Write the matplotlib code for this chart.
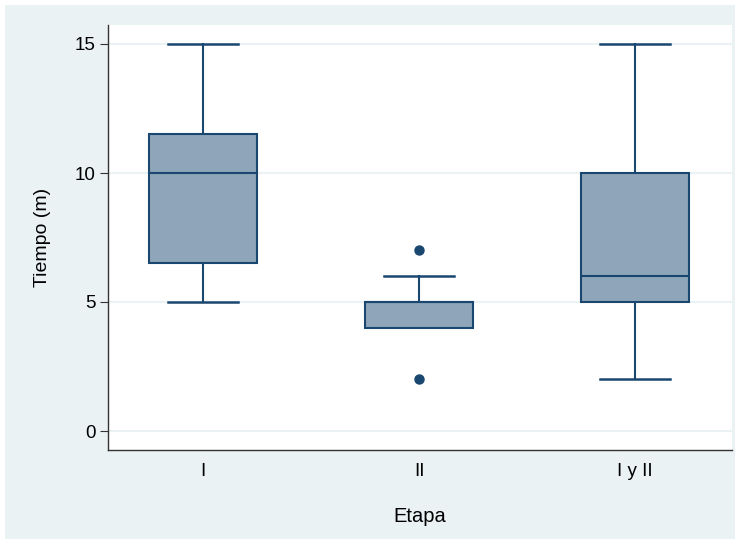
import matplotlib
matplotlib.use("Agg")
import matplotlib.pyplot as plt
from matplotlib.patches import Rectangle

plt.rcParams['font.family'] = ['Liberation Sans', 'DejaVu Sans']

categories = ["I", "II", "I y II"]
whislo = [5, 4, 2]
q1 = [6.5, 4, 5]
med = [10, 5, 6]
q3 = [11.5, 5, 10]
whishi = [15, 6, 15]
fliers = [[], [2, 7], []]
yticks = [0, 5, 10, 15]

navy = "#1A476F"
fill = "#8FA5B9"
bg = "#EAF2F3"

fig = plt.figure(figsize=(7.40, 5.44), dpi=100)
fig.patch.set_facecolor("white")
fig.patches.append(Rectangle((5/740, 5/544), 1 - 10/740, 1 - 10/544,
                             transform=fig.transFigure, facecolor=bg,
                             edgecolor="none", zorder=-10))
ax = fig.add_axes([108/740, 94/544, 624/740, 425/544])
ax.set_facecolor("white")

stats = []
for i, c in enumerate(categories):
    stats.append(dict(label=c, whislo=whislo[i], q1=q1[i], med=med[i],
                      q3=q3[i], whishi=whishi[i], fliers=fliers[i]))

res = ax.bxp(stats, positions=[1, 2, 3], widths=0.5, patch_artist=True,
             boxprops=dict(facecolor=fill, edgecolor=navy, linewidth=1.5),
             medianprops=dict(color=navy, linewidth=1.5),
             whiskerprops=dict(color=navy, linewidth=1.5),
             capprops=dict(color=navy, linewidth=1.8),
             capwidths=0.32,
             flierprops=dict(marker="o", markerfacecolor=navy, markeredgecolor=navy,
                             markersize=6.5))
for b in res["boxes"]:
    b.set_zorder(4)
for m in res["medians"]:
    m.set_zorder(5)
# hide caps that coincide with a box edge (zero-length whisker)
for i in range(len(categories)):
    if whislo[i] == q1[i]:
        res["caps"][2 * i].set_visible(False)
    if whishi[i] == q3[i]:
        res["caps"][2 * i + 1].set_visible(False)

ax.set_xlim(1 - 95/216, 3 + 97/216)
ax.set_ylim(-19/25.8, 15 + 19/25.8)
ax.set_yticks(yticks)
ax.set_yticklabels([str(t) for t in yticks], fontsize=13.5)
ax.set_xticks([1, 2, 3])
ax.set_xticklabels(categories, fontsize=13.5)
ax.yaxis.grid(True, color=bg, linewidth=1.5, zorder=0)
ax.set_axisbelow(True)
for s in ["top", "right"]:
    ax.spines[s].set_visible(False)
for s in ["left", "bottom"]:
    ax.spines[s].set_color("#333333")
    ax.spines[s].set_linewidth(1.0)
ax.tick_params(axis="y", length=6, color="#333333", pad=3)
ax.tick_params(axis="x", length=0, pad=9)
ax.set_ylabel("Tiempo (m)", fontsize=14, labelpad=17)
ax.set_xlabel("Etapa", fontsize=14.5, labelpad=20)

fig.savefig("out.png", dpi=100, facecolor=fig.get_facecolor())
